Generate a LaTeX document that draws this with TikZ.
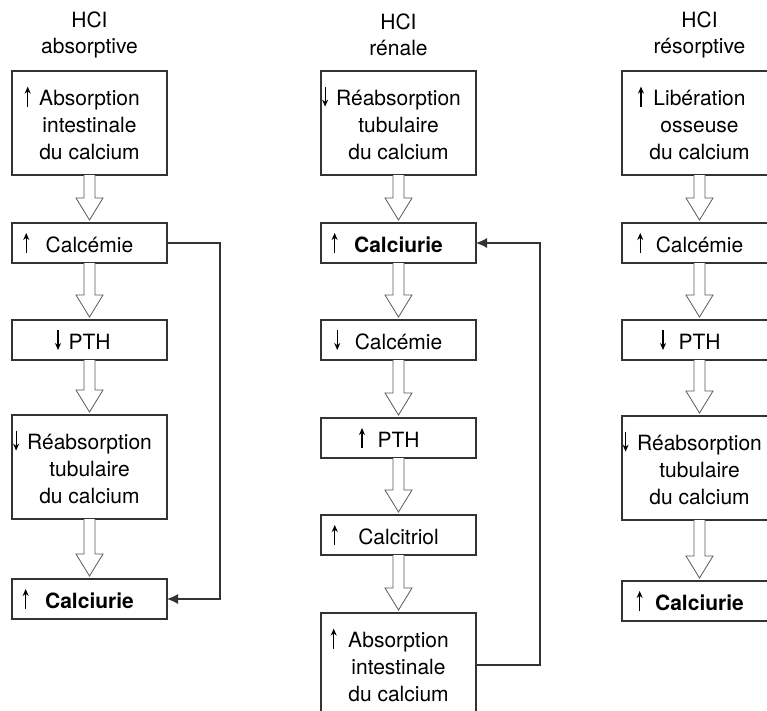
\documentclass[tikz,border=0pt]{standalone}
\usepackage{fontspec}
\setmainfont{TeX Gyre Heros}
\usetikzlibrary{positioning,calc,arrows.meta}

% petites fleches devant le texte
\newcommand{\hausse}[1][13pt]{\llap{\tikz[baseline=0pt]\draw[line width=1.1pt,-{Stealth[length=7pt,width=6pt]}] (0pt,-1pt) -- (0pt,19pt);\hspace{#1}}}
\newcommand{\baisse}[1][13pt]{\llap{\tikz[baseline=0pt]\draw[line width=1.1pt,-{Stealth[length=7pt,width=6pt]}] (0pt,19pt) -- (0pt,-1pt);\hspace{#1}}}
% fleche creuse entre deux boites
\newcommand{\fleche}[2]{%
  \draw[creux] ($(#1.south)+(-5.5,0)$) -- ($(#2.north)+(-5.5,25)$) -- ++(-8,0)
    -- ($(#2.north)+(0,3)$) -- ($(#2.north)+(13.5,25)$) -- ++(-8,0)
    -- ($(#1.south)+(5.5,0)$);}

\begin{document}
\begin{tikzpicture}[x=1pt,y=1pt,font=\fontsize{21}{27}\selectfont,node distance=57pt,
	boite/.style={draw=black!80,line width=1.1pt,minimum width=155pt,minimum height=40pt,align=center,inner sep=2pt,outer sep=0pt},
	haute/.style={boite,minimum height=104pt},
	titre/.style={align=center,inner sep=0pt,font=\fontsize{21}{26}\selectfont},
	creux/.style={draw=black!65,line width=0.8pt,fill=white,line join=miter},
	retour/.style={draw=black!80,line width=1.1pt,-{Latex[length=11pt,width=10pt]}}]
	\useasboundingbox (0,0) rectangle (767,-710);
	\clip (0,0) rectangle (767,-710);
	% HCI absorptive
	\node[haute,anchor=north] (a1) at (89.5,-71) {\hausse[8.5pt]Absorption\\intestinale\\du calcium};
	\node[titre] (ta) at ($(a1.north)+(0,36)$) {HCI\\absorptive};
	\node[boite,below=48pt of a1] (a2) {\hausse[16.5pt]Calcémie};
	\node[boite,below=57pt of a2] (a3) {\baisse[7.5pt]PTH};
	\node[haute,below=55pt of a3] (a4) {\baisse[8pt]Réabsorption\\tubulaire\\du calcium};
	\node[boite,below=60pt of a4] (a5) {\hausse[16.5pt]\textbf{Calciurie}};
	\fleche{a1}{a2}
	\fleche{a2}{a3}
	\fleche{a3}{a4}
	\fleche{a4}{a5}
	\draw[retour] (a2.east) -- ++(53,0) |- (a5.east);
	% HCI renale
	\node[haute,anchor=north] (b1) at (398.5,-71) {\baisse[8pt]Réabsorption\\tubulaire\\du calcium};
	\node[titre] (tb) at ($(b1.north)+(0,36)$) {HCI\\rénale};
	\node[boite,below=48pt of b1] (b2) {\hausse[16.5pt]\textbf{Calciurie}};
	\node[boite,below=57pt of b2] (b3) {\baisse[14.5pt]Calcémie};
	\node[boite,below=58pt of b3] (b4) {\hausse[12.5pt]PTH};
	\node[boite,below=57pt of b4] (b5) {\hausse[20.5pt]Calcitriol};
	\node[haute,below=58pt of b5] (b6) {\hausse[11.5pt]Absorption\\intestinale\\du calcium};
	\fleche{b1}{b2}
	\fleche{b2}{b3}
	\fleche{b3}{b4}
	\fleche{b4}{b5}
	\fleche{b5}{b6}
	\draw[retour] (b6.east) -- ++(64,0) |- (b2.east);
	% HCI resorptive
	\node[haute,anchor=north] (c1) at (699.5,-71) {\hausse[9.5pt]Libération\\osseuse\\du calcium};
	\node[titre] (tc) at ($(c1.north)+(0,36)$) {HCI\\résorptive};
	\node[boite,below=48pt of c1] (c2) {\hausse[12.5pt]Calcémie};
	\node[boite,below=57pt of c2] (c3) {\baisse[12.5pt]PTH};
	\node[haute,below=56pt of c3] (c4) {\baisse[8.5pt]Réabsorption\\tubulaire\\du calcium};
	\node[boite,below=61pt of c4] (c5) {\hausse[12.5pt]\textbf{Calciurie}};
	\fleche{c1}{c2}
	\fleche{c2}{c3}
	\fleche{c3}{c4}
	\fleche{c4}{c5}
\end{tikzpicture}
\end{document}
